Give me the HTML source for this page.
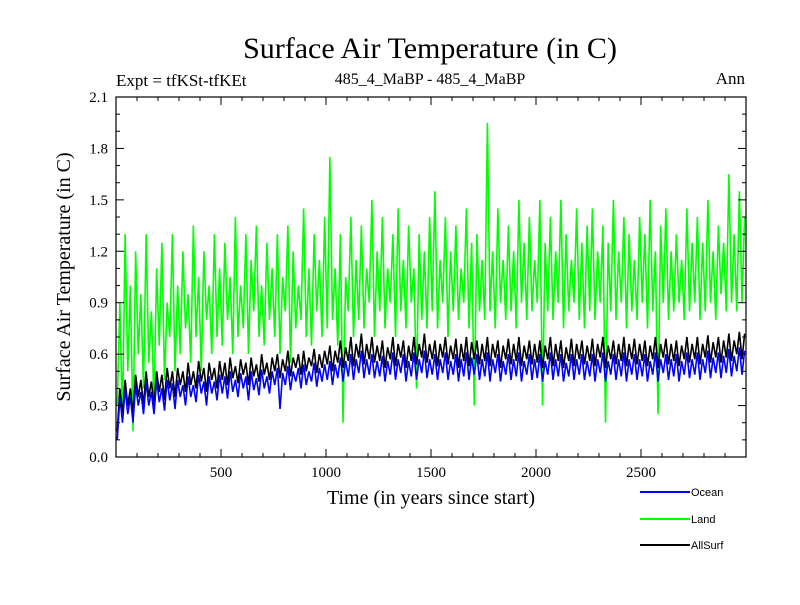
<!DOCTYPE html>
<html><head><meta charset="utf-8"><style>
body{margin:0;background:#fff;}
svg text{font-family:"Liberation Serif",serif;}
</style></head><body>
<svg id="chart" width="800" height="600" viewBox="0 0 800 600" xmlns="http://www.w3.org/2000/svg">
<rect width="800" height="600" fill="#fff"/>
<text x="430" y="58" font-size="30" text-anchor="middle">Surface Air Temperature (in C)</text>
<text x="116" y="86" font-size="17">Expt = tfKSt-tfKEt</text>
<text x="430" y="84" font-size="16" text-anchor="middle">485_4_MaBP - 485_4_MaBP</text>
<text x="745" y="84" font-size="17" text-anchor="end">Ann</text>
<text transform="translate(70,277) rotate(-90)" font-size="20" text-anchor="middle">Surface Air Temperature (in C)</text>
<text x="431" y="504" font-size="20" text-anchor="middle">Time (in years since start)</text>
<clipPath id="clip"><rect x="116" y="97" width="630" height="360"/></clipPath>
<g id="series" clip-path="url(#clip)"></g>
<g id="axes"></g>
<g id="legend">
<line x1="640" y1="492" x2="690" y2="492" stroke="#0000ff" stroke-width="2"/>
<text x="691" y="496" font-size="11" style="font-family:'Liberation Sans',sans-serif">Ocean</text>
<line x1="640" y1="519" x2="690" y2="519" stroke="#00ff00" stroke-width="2"/>
<text x="691" y="523" font-size="11" style="font-family:'Liberation Sans',sans-serif">Land</text>
<line x1="640" y1="545" x2="690" y2="545" stroke="#000" stroke-width="2"/>
<text x="691" y="549" font-size="11" style="font-family:'Liberation Sans',sans-serif">AllSurf</text>
</g>
</svg>
<script>
const yearStep = 12.5;
const xTicks = [500,1000,1500,2000,2500];
const yTicks = [0.0,0.3,0.6,0.9,1.2,1.5,1.8,2.1];
const land = [
0.3,0.9,0.2,1.3,0.5,1.0,0.15,1.2,0.6,0.95,0.4,1.3,0.55,0.85,0.3,1.1,0.65,1.25,0.45,0.9,
0.7,1.3,0.5,1.0,0.6,1.2,0.75,0.95,0.55,1.35,0.7,1.05,0.5,1.2,0.8,1.0,0.6,1.3,0.7,1.1,
0.65,1.25,0.8,1.05,0.6,1.4,0.7,1.0,0.75,1.3,0.6,1.15,0.85,1.35,0.7,1.0,0.65,1.25,0.8,1.1,
0.7,1.3,0.6,1.05,0.85,1.35,0.55,1.2,0.75,1.0,0.8,1.45,0.7,1.1,0.65,1.3,0.85,1.15,0.7,1.4,
0.75,1.75,0.8,1.1,0.65,1.3,0.2,1.05,0.85,1.4,0.7,1.15,0.8,1.35,0.75,1.1,0.9,1.5,0.7,1.2,
0.85,1.4,0.75,1.1,0.9,1.3,0.7,1.45,0.85,1.15,0.75,1.35,0.9,1.1,0.4,1.3,0.8,1.2,0.75,1.4,
0.85,1.55,0.75,1.15,0.9,1.4,0.7,1.2,0.85,1.35,0.8,1.1,0.9,1.45,0.75,1.25,0.3,1.3,0.85,1.15,
0.8,1.95,0.85,1.2,0.75,1.45,0.9,1.15,0.8,1.35,0.85,1.2,0.75,1.5,0.9,1.25,0.8,1.4,0.85,1.15,
0.9,1.5,0.3,1.25,0.85,1.4,0.8,1.2,0.9,1.5,0.75,1.3,0.85,1.15,0.9,1.45,0.8,1.25,0.75,1.35,
0.85,1.45,0.8,1.2,0.9,1.35,0.2,1.25,0.85,1.5,0.8,1.2,0.9,1.4,0.75,1.3,0.85,1.15,0.8,1.4,
0.9,1.3,0.75,1.5,0.85,1.2,0.25,1.35,0.9,1.45,0.8,1.2,0.85,1.3,0.9,1.15,0.8,1.45,0.85,1.25,
0.9,1.4,0.8,1.25,0.85,1.5,0.9,1.2,0.8,1.35,0.95,1.25,0.85,1.65,0.9,1.3,0.85,1.55,0.9,1.4];
const allsurf = [
0.15,0.4,0.25,0.45,0.3,0.4,0.25,0.48,0.35,0.45,0.3,0.5,0.35,0.44,0.3,0.5,0.38,0.48,0.33,0.52,
0.4,0.5,0.35,0.52,0.42,0.5,0.38,0.55,0.42,0.5,0.4,0.56,0.44,0.52,0.38,0.55,0.45,0.52,0.4,0.56,
0.45,0.55,0.42,0.58,0.46,0.53,0.43,0.57,0.48,0.55,0.42,0.58,0.47,0.54,0.44,0.6,0.48,0.55,0.45,0.58,
0.5,0.6,0.46,0.57,0.5,0.62,0.47,0.58,0.52,0.6,0.48,0.62,0.5,0.58,0.53,0.63,0.49,0.6,0.52,0.62,
0.54,0.65,0.5,0.62,0.55,0.68,0.52,0.64,0.56,0.7,0.53,0.66,0.58,0.72,0.54,0.66,0.57,0.7,0.55,0.65,
0.56,0.68,0.52,0.64,0.57,0.7,0.53,0.66,0.58,0.68,0.52,0.65,0.56,0.7,0.54,0.66,0.58,0.72,0.55,0.66,
0.57,0.68,0.53,0.66,0.58,0.7,0.54,0.65,0.57,0.69,0.52,0.66,0.56,0.7,0.53,0.67,0.57,0.68,0.54,0.66,
0.56,0.7,0.53,0.66,0.58,0.68,0.52,0.65,0.57,0.69,0.54,0.66,0.56,0.7,0.53,0.65,0.57,0.68,0.54,0.66,
0.55,0.68,0.52,0.65,0.57,0.7,0.53,0.66,0.56,0.68,0.52,0.64,0.56,0.69,0.53,0.66,0.57,0.68,0.54,0.65,
0.56,0.69,0.53,0.66,0.58,0.7,0.52,0.65,0.57,0.68,0.54,0.66,0.56,0.7,0.53,0.66,0.57,0.69,0.54,0.66,
0.56,0.68,0.53,0.65,0.57,0.7,0.52,0.66,0.58,0.69,0.54,0.66,0.56,0.68,0.53,0.65,0.57,0.7,0.55,0.66,
0.57,0.7,0.54,0.66,0.58,0.71,0.55,0.67,0.58,0.7,0.55,0.68,0.58,0.72,0.56,0.68,0.6,0.73,0.57,0.72];
const ocean = [
0.1,0.35,0.2,0.4,0.25,0.35,0.2,0.42,0.3,0.38,0.25,0.44,0.3,0.38,0.25,0.45,0.32,0.4,0.27,0.45,
0.33,0.43,0.28,0.45,0.35,0.42,0.3,0.47,0.35,0.42,0.32,0.48,0.37,0.44,0.3,0.47,0.37,0.44,0.33,0.48,
0.37,0.47,0.34,0.5,0.38,0.45,0.35,0.49,0.4,0.47,0.33,0.5,0.39,0.46,0.36,0.51,0.4,0.47,0.37,0.5,
0.42,0.52,0.28,0.49,0.42,0.53,0.39,0.5,0.44,0.52,0.4,0.54,0.42,0.5,0.44,0.55,0.41,0.52,0.44,0.54,
0.45,0.56,0.42,0.54,0.46,0.58,0.44,0.56,0.47,0.6,0.45,0.57,0.49,0.62,0.46,0.57,0.48,0.6,0.46,0.56,
0.47,0.59,0.44,0.56,0.48,0.61,0.45,0.57,0.49,0.6,0.44,0.56,0.47,0.61,0.45,0.57,0.49,0.62,0.46,0.57,
0.48,0.6,0.45,0.57,0.49,0.61,0.45,0.56,0.48,0.6,0.44,0.57,0.47,0.61,0.45,0.58,0.48,0.6,0.45,0.57,
0.47,0.61,0.44,0.57,0.49,0.6,0.44,0.56,0.48,0.6,0.45,0.57,0.47,0.61,0.44,0.56,0.48,0.6,0.45,0.57,
0.46,0.6,0.44,0.56,0.48,0.61,0.45,0.57,0.47,0.6,0.44,0.55,0.47,0.6,0.45,0.57,0.48,0.6,0.45,0.56,
0.47,0.6,0.44,0.57,0.49,0.61,0.44,0.56,0.48,0.6,0.45,0.57,0.47,0.61,0.44,0.57,0.48,0.6,0.45,0.57,
0.47,0.6,0.44,0.56,0.48,0.61,0.44,0.57,0.49,0.6,0.45,0.57,0.47,0.6,0.44,0.56,0.48,0.61,0.46,0.57,
0.48,0.61,0.45,0.57,0.49,0.62,0.46,0.58,0.49,0.61,0.46,0.59,0.49,0.63,0.47,0.59,0.5,0.64,0.48,0.62];
const X0=116,X1=746,Y0=457,Y1=97;
const xs=v=>X0+(v/3000)*(X1-X0);
const ys=v=>Y0-(v/2.1)*(Y0-Y1);
const NS='http://www.w3.org/2000/svg';
const g=document.getElementById('series');
function draw(arr,color,name){
  const p=document.createElementNS(NS,'polyline');
  
  
  p.setAttribute('points',arr.map((v,i)=>xs(i*yearStep+6)+','+ys(v)).join(' '));
  p.setAttribute('fill','none');p.setAttribute('stroke',color);p.setAttribute('stroke-width','1.6');
  g.appendChild(p);
}
draw(land,'#00ff00','land-line');
draw(allsurf,'#000000','allsurf-line');
draw(ocean,'#0000ff','ocean-line');
const ax=document.getElementById('axes');
function line(x1,y1,x2,y2){const l=document.createElementNS(NS,'line');l.setAttribute('x1',x1);l.setAttribute('y1',y1);l.setAttribute('x2',x2);l.setAttribute('y2',y2);l.setAttribute('stroke','#000');l.setAttribute('stroke-width','1');ax.appendChild(l);return l;}
const fr=document.createElementNS(NS,'rect');


fr.setAttribute('x',X0);fr.setAttribute('y',Y1);fr.setAttribute('width',X1-X0);fr.setAttribute('height',Y0-Y1);fr.setAttribute('fill','none');fr.setAttribute('stroke','#000');fr.setAttribute('stroke-width','1.2');
ax.appendChild(fr);
for(let v=100;v<3000;v+=100){const L=v%500===0?8:4;const x=xs(v);line(x,Y0,x,Y0-L);line(x,Y1,x,Y1+L);}
for(let k=1;k<21;k++){const v=k*0.1;const L=k%3===0?8:4;const y=ys(v);line(X0,y,X0+L,y);line(X1,y,X1-L,y);}
xTicks.forEach(v=>{const t=document.createElementNS(NS,'text');


t.setAttribute('x',xs(v));t.setAttribute('y',477);t.setAttribute('font-size','15');t.setAttribute('text-anchor','middle');t.textContent=v;ax.appendChild(t);});
yTicks.forEach(v=>{const t=document.createElementNS(NS,'text');


t.setAttribute('x',108);t.setAttribute('y',ys(v)+5);t.setAttribute('font-size','15');t.setAttribute('text-anchor','end');t.textContent=v.toFixed(1);ax.appendChild(t);});
</script>
</body></html>
